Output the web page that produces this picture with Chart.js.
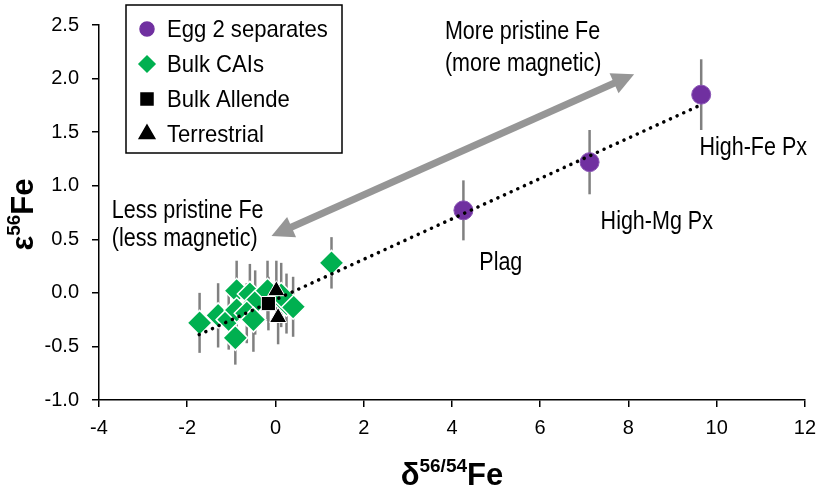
<!DOCTYPE html>
<html>
<head>
<meta charset="utf-8">
<script src="https://cdn.jsdelivr.net/npm/chart.js@4.4.0/dist/chart.umd.min.js"></script>
<style>
  html, body { margin: 0; padding: 0; background: #fff; }
  #wrap { width: 825px; height: 490px; }
</style>
</head>
<body>
<div id="wrap"><canvas id="graficaFe" width="825" height="490"></canvas></div>
<script>
// Egg 2 separates
const eggLabels = ["Plag", "High-Mg Px", "High-Fe Px"];
const eggX = [4.26, 7.12, 9.65];
const eggY = [0.77, 1.22, 1.85];
const eggErr = [0.28, 0.30, 0.33];

// Bulk CAIs
const caiX = [-1.72, -1.30, -1.06, -0.88, -0.88, -0.91, -0.58, -0.46, -0.65, -0.50, -0.18, 0.25, 0.40, 0.13, 1.27];
const caiY = [-0.28, -0.21, -0.25, 0.02, -0.16, -0.42, -0.01, -0.09, -0.19, -0.25, 0.02, -0.10, -0.13, -0.02, 0.28];
const caiErr = [0.28, 0.30, 0.28, 0.28, 0.30, 0.25, 0.28, 0.30, 0.28, 0.30, 0.28, 0.28, 0.28, 0.30, 0.24];

// Bulk Allende
const allendeX = [-0.16];
const allendeY = [-0.10];
const allendeErr = [0.25];

// Terrestrial
const terrX = [0.02, 0.06];
const terrY = [0.02, -0.23];
const terrErr = [0.28, 0.25];

// regression line ends
const trendX = [-1.73, 9.62];
const trendY = [-0.39, 1.75];

// arrow ends (data units)
const arrowX = [-0.09, 8.13];
const arrowY = [0.53, 2.04];

const yTicks = { min: -1.0, max: 2.5, step: 0.5 };
const xTicks = { min: -4, max: 12, step: 2 };

const notes = [
    { text: "More pristine Fe", x: 3.84, y: 2.37 },
    { text: "(more magnetic)", x: 3.84, y: 2.07 },
    { text: "Less pristine Fe", x: -3.71, y: 0.70 },
    { text: "(less magnetic)", x: -3.71, y: 0.44 },
    { text: "Plag", x: 4.62, y: 0.21 },
    { text: "High-Mg Px", x: 7.37, y: 0.60 },
    { text: "High-Fe Px", x: 9.61, y: 1.29 },
];

const PURPLE = "#7030A0";
const GREEN = "#00B050";
const FONT = "'Liberation Sans', Arial, sans-serif";

function toPoints(xs, ys) {
    return xs.map((v, i) => ({ x: v, y: ys[i] }));
}

const errorSets = [
    { xs: eggX, ys: eggY, err: eggErr },
    { xs: caiX, ys: caiY, err: caiErr },
    { xs: allendeX, ys: allendeY, err: allendeErr },
    { xs: terrX, ys: terrY, err: terrErr },
];

const legendItems = [
    { label: "Egg 2 separates", style: "circle", color: PURPLE, r: 7 },
    { label: "Bulk CAIs", style: "rectRot", color: GREEN, r: 8 },
    { label: "Bulk Allende", style: "rect", color: "#000", r: 8.5 },
    { label: "Terrestrial", style: "triangle", color: "#000", r: 9 },
];

function drawArrow(ctx, x1, y1, x2, y2) {
    const ang = Math.atan2(y2 - y1, x2 - x1);
    const hl = 22, hw = 11;
    const cos = Math.cos(ang), sin = Math.sin(ang);
    ctx.lineWidth = 7;
    ctx.beginPath();
    ctx.moveTo(x1 + cos * hl * 0.7, y1 + sin * hl * 0.7);
    ctx.lineTo(x2 - cos * hl * 0.7, y2 - sin * hl * 0.7);
    ctx.stroke();
    [[x2, y2, 1], [x1, y1, -1]].forEach(([tx, ty, d]) => {
        const bx = tx - d * cos * hl, by = ty - d * sin * hl;
        ctx.beginPath();
        ctx.moveTo(tx, ty);
        ctx.lineTo(bx - sin * hw, by + cos * hw);
        ctx.lineTo(bx + sin * hw, by - cos * hw);
        ctx.closePath();
        ctx.fill();
    });
}

function drawSupTitle(ctx, parts, cx, cy, rotate) {
    ctx.save();
    ctx.translate(cx, cy);
    if (rotate) ctx.rotate(-Math.PI / 2);
    let total = 0;
    parts.forEach(p => { ctx.font = p.font; total += ctx.measureText(p.t).width; });
    let x = -total / 2;
    ctx.textBaseline = "alphabetic";
    ctx.textAlign = "left";
    parts.forEach(p => {
        ctx.font = p.font;
        ctx.fillText(p.t, x, p.dy);
        x += ctx.measureText(p.t).width;
    });
    ctx.restore();
}

const extras = {
    id: "extras",
    beforeDatasetsDraw(chart) {
        const { ctx, scales: { x, y } } = chart;
        ctx.save();
        // error bars
        ctx.strokeStyle = "#808080";
        ctx.lineWidth = 2.5;
        errorSets.forEach(s => s.xs.forEach((v, i) => {
            const px = x.getPixelForValue(v);
            ctx.beginPath();
            ctx.moveTo(px, y.getPixelForValue(s.ys[i] + s.err[i]));
            ctx.lineTo(px, y.getPixelForValue(s.ys[i] - s.err[i]));
            ctx.stroke();
        }));
        // double arrow
        ctx.strokeStyle = "#969696";
        ctx.fillStyle = "#969696";
        drawArrow(ctx,
            x.getPixelForValue(arrowX[0]), y.getPixelForValue(arrowY[0]),
            x.getPixelForValue(arrowX[1]), y.getPixelForValue(arrowY[1]));
        ctx.restore();
    },
    afterDraw(chart) {
        const { ctx, scales: { x, y }, chartArea } = chart;
        ctx.save();
        // annotations
        ctx.fillStyle = "#000";
        ctx.font = "25px " + FONT;
        ctx.textBaseline = "alphabetic";
        notes.forEach(n => {
            ctx.save();
            ctx.translate(x.getPixelForValue(n.x), y.getPixelForValue(n.y));
            ctx.scale(0.86, 1);
            ctx.fillText(n.text, 0, 0);
            ctx.restore();
        });

        // legend box
        const lx = 126, ly = 5, lw = 216, lh = 148;
        ctx.fillStyle = "#fff";
        ctx.fillRect(lx, ly, lw, lh);
        ctx.strokeStyle = "#000";
        ctx.lineWidth = 1.5;
        ctx.strokeRect(lx, ly, lw, lh);
        ctx.textBaseline = "middle";
        legendItems.forEach((it, i) => {
            const cy = ly + 24 + i * 35;
            ctx.fillStyle = it.color;
            ctx.strokeStyle = it.color;
            Chart.helpers.drawPoint(ctx, { pointStyle: it.style, radius: it.r, rotation: 0, borderWidth: 1 }, lx + 21, cy);
            ctx.fillStyle = "#000";
            ctx.save();
            ctx.translate(lx + 41, cy + 1);
            ctx.scale(0.92, 1);
            ctx.font = "24px " + FONT;
            ctx.fillText(it.label, 0, 0);
            ctx.restore();
        });

        // axis titles
        ctx.fillStyle = "#000";
        const cx = (chartArea.left + chartArea.right) / 2;
        drawSupTitle(ctx, [
            { t: "\u03B4", font: "bold 31px " + FONT, dy: 0 },
            { t: "56/54", font: "bold 19px " + FONT, dy: -13 },
            { t: "Fe", font: "bold 31px " + FONT, dy: 0 },
        ], cx, 485, false);
        const cyT = (chartArea.top + chartArea.bottom) / 2;
        drawSupTitle(ctx, [
            { t: "\u03B5", font: "bold 31px " + FONT, dy: 0 },
            { t: "56", font: "bold 19px " + FONT, dy: -13 },
            { t: "Fe", font: "bold 31px " + FONT, dy: 0 },
        ], 33, cyT + 2, true);
        ctx.restore();
    }
};

const axisCommon = {
    border: { display: true, color: "#000", width: 1.5 },
    grid: { drawOnChartArea: false, drawTicks: true, tickLength: 7, color: "#000", lineWidth: 1.5 },
};

new Chart(document.getElementById("graficaFe"), {
    type: "scatter",
    data: {
        datasets: [
            {
                label: "trend",
                type: "line",
                data: toPoints(trendX, trendY),
                borderColor: "#000",
                borderWidth: 3.5,
                borderDash: [0.1, 7.2],
                borderCapStyle: "round",
                pointRadius: 0,
                fill: false,
                order: 0,
            },
            {
                label: "Egg 2 separates",
                data: toPoints(eggX, eggY),
                pointStyle: "circle",
                pointRadius: 9.5,
                backgroundColor: PURPLE,
                borderColor: "#8a55b5",
                borderWidth: 1,
                order: 1,
            },
            {
                label: "Bulk CAIs",
                data: toPoints(caiX, caiY),
                pointStyle: "rectRot",
                pointRadius: 12.5,
                backgroundColor: GREEN,
                borderColor: "#ffffff",
                borderWidth: 1.5,
                order: 2,
            },
            {
                label: "Terrestrial",
                data: toPoints(terrX, terrY),
                pointStyle: "triangle",
                pointRadius: 10,
                backgroundColor: "#000",
                borderColor: "#fff",
                borderWidth: 1,
                order: 1,
            },
            {
                label: "Bulk Allende",
                data: toPoints(allendeX, allendeY),
                pointStyle: "rect",
                pointRadius: 10,
                backgroundColor: "#000",
                borderColor: "#fff",
                borderWidth: 1,
                order: 1,
            },
        ],
    },
    options: {
        responsive: false,
        animation: false,
        devicePixelRatio: 1,
        layout: { padding: { left: 0, top: 19, right: 14, bottom: 0 } },
        plugins: {
            legend: { display: false },
            tooltip: { enabled: false },
            title: { display: false },
        },
        scales: {
            x: {
                type: "linear",
                min: xTicks.min,
                max: xTicks.max,
                ...axisCommon,
                ticks: {
                    stepSize: xTicks.step,
                    color: "#000",
                    padding: 9,
                    font: { family: FONT, size: 20 },
                    callback: (v) => String(v),
                },
                afterFit(scale) { scale.height = 90; },
            },
            y: {
                type: "linear",
                min: yTicks.min,
                max: yTicks.max,
                ...axisCommon,
                ticks: {
                    stepSize: yTicks.step,
                    color: "#000",
                    padding: 13,
                    font: { family: FONT, size: 20 },
                    callback: (v) => Number(v).toFixed(1),
                },
                afterFit(scale) { scale.width = 99; },
            },
        },
    },
    plugins: [extras],
});
</script>
</body>
</html>
